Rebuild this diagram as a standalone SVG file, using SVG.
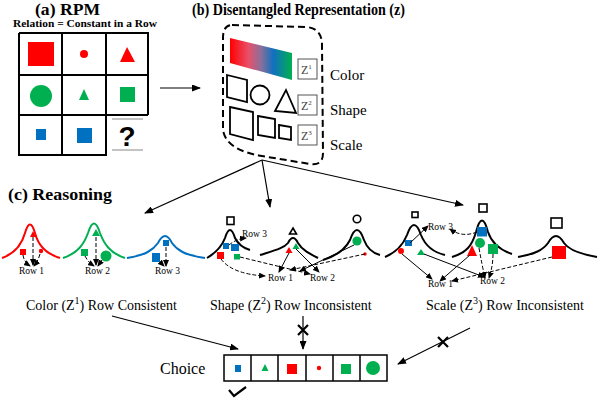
<svg xmlns="http://www.w3.org/2000/svg" width="598" height="400" viewBox="0 0 598 400">
<style>
text{font-family:"Liberation Serif","Times New Roman","DejaVu Serif",serif;fill:#000}
.title{font-size:17px;font-weight:bold}
.lbl{font-size:15px}
.row{font-size:9.5px}
.cap{font-size:14px}
.grid{fill:none;stroke:#000;stroke-width:2}
.R{fill:#ff0000}.G{fill:#00b050}.B{fill:#0070c0}
.curve{fill:none;stroke-width:2}
.ol{fill:#fff;stroke:#000;stroke-width:1.6}
.ol2{fill:none;stroke:#000;stroke-width:1.8}
.zb{fill:#fff;stroke:#555;stroke-width:1}
.ar{fill:none;stroke:#000;stroke-width:1;marker-end:url(#ah)}
.ard{fill:none;stroke:#000;stroke-width:1;stroke-dasharray:4,2;marker-end:url(#ah)}
.big{fill:none;stroke:#000;stroke-width:1.2;marker-end:url(#ahb)}
</style>
<defs>
<marker id="ah" markerWidth="7" markerHeight="6" refX="6" refY="3" orient="auto" markerUnits="userSpaceOnUse"><path d="M0,0 L7,3 L0,6 Z" fill="#000"/></marker>
<marker id="ahb" markerWidth="9" markerHeight="7" refX="8" refY="3.5" orient="auto" markerUnits="userSpaceOnUse"><path d="M0,0 L9,3.5 L0,7 Z" fill="#000"/></marker>
<linearGradient id="rgb" x1="0" y1="0" x2="1" y2="0">
<stop offset="0" stop-color="#ff0000"/><stop offset="0.3" stop-color="#e8506a"/><stop offset="0.5" stop-color="#8a6f9a"/><stop offset="0.7" stop-color="#1070c0"/><stop offset="1" stop-color="#00b050"/>
</linearGradient>
</defs>

<g id="rpm">
<text class="title" x="35" y="15" textLength="65" lengthAdjust="spacingAndGlyphs">(a) RPM</text>
<text x="13" y="27" textLength="144" lengthAdjust="spacingAndGlyphs" style="font-size:9.6px;font-weight:bold">Relation = Constant in a Row</text>
<path class="grid" d="M19,33 H148 V115 M19,33 V155 H106 V115 M19,75 H148 M19,115 H148 M62,33 V155 M106,33 V115"/>
<path d="M112,119 H143 M112,150 H143" stroke="#888" stroke-width="1"/>
<rect class="R" x="28" y="42" width="26" height="24"/>
<circle class="R" cx="84" cy="54" r="4"/>
<path class="R" d="M127,47 L135,62 L120,62 Z"/>
<circle class="G" cx="41" cy="96" r="11"/>
<path class="G" d="M84,89 L89,100 L79,100 Z"/>
<rect class="G" x="120" y="87" width="15" height="15"/>
<rect class="B" x="36" y="129" width="10" height="11"/>
<rect class="B" x="77" y="128" width="15" height="15"/>
<text x="127" y="146" text-anchor="middle" style="font-family:'Liberation Sans',Arial,sans-serif;font-weight:bold;font-size:28px">?</text>
</g>

<g id="repr">
<text class="title" x="192" y="15" textLength="213" lengthAdjust="spacingAndGlyphs">(b) Disentangled Representation (z)</text>
<path d="M232,25 L306,27 Q322,28 322,45 L323,153 Q323,166 310,164 L262,156 Q226,150 223,130 L223,38 Q223,25 232,25 Z" fill="none" stroke="#000" stroke-width="2" stroke-dasharray="7,4"/>
<path d="M230,38 L292,53 L292,80 L230,63 Z" fill="url(#rgb)"/>
<path class="ol2" d="M227,75 L247,80 L247,102 L227,97 Z"/>
<circle class="ol2" cx="260" cy="95" r="9.5"/>
<path class="ol2" d="M286,90 L296,113 L275,111 Z"/>
<path class="ol2" d="M230,107 L253,112 L253,140 L230,134 Z"/>
<path class="ol2" d="M258,116 L275,119 L275,138 L258,135 Z"/>
<path class="ol2" d="M279,125 L291,127 L291,140 L279,138 Z"/>
<rect class="zb" x="298" y="59" width="19" height="20"/>
<rect class="zb" x="298" y="95" width="19" height="20"/>
<rect class="zb" x="298" y="125" width="19" height="20"/>
<text x="301" y="74" style="font-size:12px;fill:#444">Z<tspan dy="-5" style="font-size:7px">1</tspan></text>
<text x="301" y="110" style="font-size:12px;fill:#444">Z<tspan dy="-5" style="font-size:7px">2</tspan></text>
<text x="301" y="140" style="font-size:12px;fill:#444">Z<tspan dy="-5" style="font-size:7px">3</tspan></text>
<text class="lbl" x="330" y="80">Color</text>
<text class="lbl" x="330" y="115">Shape</text>
<text class="lbl" x="330" y="150">Scale</text>
</g>

<g id="color-group">
<text class="title" x="8" y="200" textLength="104" lengthAdjust="spacingAndGlyphs">(c) Reasoning</text>
<path class="curve" stroke="#ff0000" d="M2,258 C16,253 22,244 25,233 Q30,216 35,233 C38,244 44,253 60,258"/>
<path class="curve" stroke="#00b050" d="M63,258 C78,253 84,244 88,233 Q94,214 100,233 C104,244 110,253 125,258"/>
<path class="curve" stroke="#0070c0" d="M127,258 C146,255 153,250 158,243 Q165,229 172,243 C177,250 184,255 205,258"/>
<rect class="R" x="20" y="249" width="6" height="6"/>
<path class="R" d="M33,231 L36,237 L30,237 Z"/>
<circle class="R" cx="41" cy="251" r="2.2"/>
<rect class="G" x="81" y="249" width="7" height="7"/>
<path class="G" d="M96,229 L100,236 L92,236 Z"/>
<circle class="G" cx="106" cy="256" r="5.5"/>
<rect class="B" x="163" y="240" width="6" height="6"/>
<rect class="B" x="152" y="253" width="8" height="9"/>
<path class="ard" d="M23,255 Q24,262 30,266"/>
<path class="ard" d="M33,237 L33,265"/>
<path class="ard" d="M40,254 Q38,261 34,266"/>
<path class="ard" d="M85,256 Q88,262 94,266"/>
<path class="ard" d="M96,237 L96,265"/>
<path class="ard" d="M102,260 Q100,263 98,266"/>
<path class="ard" d="M166,247 L166,266"/>
<path class="ar" d="M160,262 L164,266"/>
<text class="row" x="19" y="274">Row 1</text>
<text class="row" x="85" y="274">Row 2</text>
<text class="row" x="155" y="274">Row 3</text>
<text class="cap" x="26" y="310">Color (Z<tspan dy="-6" style="font-size:10px">1</tspan><tspan dy="6">) Row Consistent</tspan></text>
</g>

<g id="shape-group">
<path class="curve" stroke="#000" d="M207,258 C217,252 222,246 225,238 Q230,222 235,238 C238,244 243,248 250,250"/>
<path class="curve" stroke="#000" d="M260,255 C276,250 284,248 288,243 Q293,233 298,243 C302,250 310,254 318,258"/>
<path class="curve" stroke="#000" d="M323,260 C336,256 345,250 350,240 Q357,220 364,240 C367,248 372,253 380,255"/>
<rect class="ol" x="227" y="217" width="7" height="7.5"/>
<path class="ol" d="M293,228 L296.5,234 L289.5,234 Z"/>
<circle class="ol" cx="357" cy="219" r="3.8"/>
<rect class="B" x="223" y="243" width="6" height="6"/>
<rect class="B" x="231" y="244" width="8" height="7"/>
<rect class="R" x="217" y="252" width="7" height="7"/>
<rect class="G" x="234" y="254" width="6" height="5.5"/>
<path class="R" d="M289,247 L292.5,253 L285.5,253 Z"/>
<path class="G" d="M296,243 L299.5,249 L292.5,249 Z"/>
<circle class="G" cx="357" cy="241" r="4.6"/>
<circle class="R" cx="365" cy="254" r="1.7"/>
<path class="ard" d="M229,245 Q236,239 246,238"/>
<path class="ard" d="M221,259 Q232,274 265,276"/>
<path class="ard" d="M240,257 L310,274"/>
<path class="ar" d="M289,253 L279,272"/>
<path class="ar" d="M296,249 L319,272"/>
<path class="ar" d="M354,245 L300,271"/>
<path class="ard" d="M365,254 L290,270"/>
<text class="row" x="242" y="237">Row 3</text>
<text class="row" x="268" y="281">Row 1</text>
<text class="row" x="310" y="281">Row 2</text>
<text class="cap" x="210" y="310">Shape (Z<tspan dy="-6" style="font-size:10px">2</tspan><tspan dy="6">) Row Inconsistent</tspan></text>
</g>

<g id="scale-group">
<path class="curve" stroke="#000" d="M385,257 C397,252 403,245 407,235 Q414,215 421,235 C425,245 432,252 445,255"/>
<path class="curve" stroke="#000" d="M452,257 C466,253 472,246 476,232 Q482,209 488,232 C492,244 500,250 512,254"/>
<path class="curve" stroke="#000" d="M518,257 C535,254 543,250 548,243 Q556,229 564,243 C569,250 580,254 597,257"/>
<rect class="ol" x="412" y="212" width="6" height="5.5"/>
<rect class="ol" x="479" y="204" width="8" height="8"/>
<rect class="ol" x="551" y="218" width="11" height="10"/>
<rect class="B" x="405" y="240" width="7" height="6"/>
<circle class="R" cx="401" cy="251" r="3"/>
<path class="G" d="M421,249 L425,255 L417,255 Z"/>
<rect class="B" x="477" y="227" width="10" height="9.5"/>
<circle class="G" cx="480" cy="243" r="5"/>
<rect class="G" x="488" y="244" width="10" height="10"/>
<path class="R" d="M472,245 L477,256 L467,256 Z"/>
<rect class="R" x="552" y="246" width="14" height="13"/>
<path class="ar" d="M410,243 L428,226"/>
<path class="ard" d="M477,232 Q462,238 450,229"/>
<path class="ar" d="M402,254 L432,279"/>
<path class="ar" d="M424,254 L484,277"/>
<path class="ar" d="M470,255 L440,281"/>
<path class="ard" d="M479,248 Q482,265 485,278"/>
<path class="ard" d="M493,254 Q493,266 489,278"/>
<path class="ard" d="M552,257 L452,281"/>
<text class="row" x="428" y="230">Row 3</text>
<text class="row" x="428" y="287">Row 1</text>
<text class="row" x="480" y="284">Row 2</text>
<text class="cap" x="426" y="310">Scale (Z<tspan dy="-6" style="font-size:10px">3</tspan><tspan dy="6">) Row Inconsistent</tspan></text>
</g>

<g id="choice">
<text x="160" y="374" style="font-size:16px">Choice</text>
<rect x="224" y="355" width="163" height="26" fill="#fff" stroke="#000" stroke-width="1.5"/>
<path d="M251,355 V381 M278,355 V381 M306,355 V381 M333,355 V381 M360,355 V381" stroke="#000" stroke-width="1.5"/>
<rect class="B" x="235" y="365" width="6" height="7"/>
<path class="G" d="M265,364 L268.5,371 L261.5,371 Z"/>
<rect class="R" x="287" y="364" width="10" height="10"/>
<circle class="R" cx="319" cy="368" r="2.2"/>
<rect class="G" x="341" y="364" width="10" height="10"/>
<circle class="G" cx="373" cy="368" r="7"/>
<path d="M229,390 L234,396 L246,387" fill="none" stroke="#000" stroke-width="2.2"/>
</g>

<g id="connectors">
<path class="big" d="M160,88 L200,88"/>
<path class="big" d="M262,160 L145,213"/>
<path class="big" d="M262,160 L270,207"/>
<path class="big" d="M262,160 L463,205"/>
<path class="big" d="M112,316 L238,349"/>
<path class="big" d="M303,316 L303,349"/>
<path d="M298,325 L308,335 M308,325 L298,335" stroke="#000" stroke-width="2.2"/>
<path class="big" d="M470,328 L398,364"/>
<path d="M438,337 L448,347 M448,337 L438,347" stroke="#000" stroke-width="2.2"/>
</g>
</svg>
